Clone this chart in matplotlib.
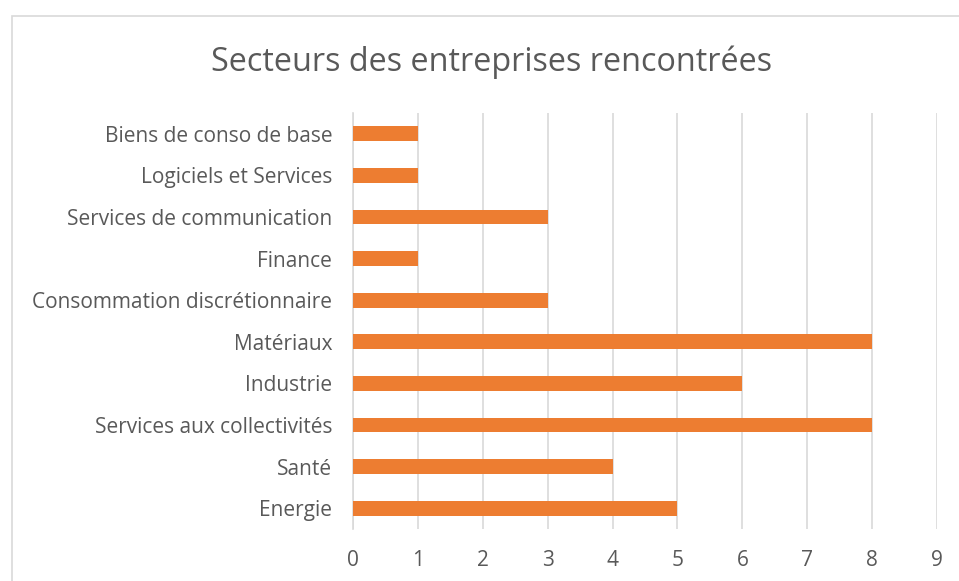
import matplotlib
matplotlib.use("Agg")
import matplotlib.pyplot as plt
from matplotlib.patches import Rectangle

categories = ["Energie", "Santé", "Services aux collectivités", "Industrie", "Matériaux",
              "Consommation discrétionnaire", "Finance", "Services de communication",
              "Logiciels et Services", "Biens de conso de base"]
values = [5, 4, 8, 6, 8, 3, 1, 3, 1, 1]
xticks = [0, 1, 2, 3, 4, 5, 6, 7, 8, 9]
title = "Secteurs des entreprises rencontrées"

plt.rcParams['font.family'] = ['Open Sans', 'DejaVu Sans']
text_color = "#595959"
grid_color = "#d9d9d9"
bar_color = "#ED7D31"

W, H = 959, 581
fig = plt.figure(figsize=(W / 100, H / 100), dpi=100)
fig.patch.set_facecolor("white")

# chart border (extends beyond the cropped image on right/bottom)
fig.patches.append(Rectangle((12 / W, -0.1), 1.2, 1 - 16 / H + 0.1, transform=fig.transFigure,
                             fill=False, edgecolor=grid_color, linewidth=1.2))

ax = fig.add_axes([353 / W, 1 - 529 / H, (937 - 353) / W, (529 - 113) / H])
ypos = list(range(len(categories)))
ax.barh(ypos, values, height=0.36, color=bar_color, zorder=3)
ax.set_xlim(0, 9)
ax.set_ylim(-0.5, len(categories) - 0.5)
ax.set_xticks(xticks)
ax.set_xticklabels([str(t) for t in xticks])
ax.set_yticks(ypos)
ax.set_yticklabels(categories)
ax.xaxis.grid(True, color=grid_color, linewidth=1.2, zorder=0)
for s in ["top", "right", "bottom"]:
    ax.spines[s].set_visible(False)
ax.spines["left"].set_color(grid_color)
ax.spines["left"].set_linewidth(1.2)
ax.tick_params(axis="both", length=0, labelcolor=text_color, labelsize=15)
ax.tick_params(axis="x", pad=15)
ax.tick_params(axis="y", pad=15)

fig.text(492 / W, 1 - 62 / H, title, ha="center", va="center", fontsize=23.3, color=text_color)

fig.savefig("out.png", dpi=100)
